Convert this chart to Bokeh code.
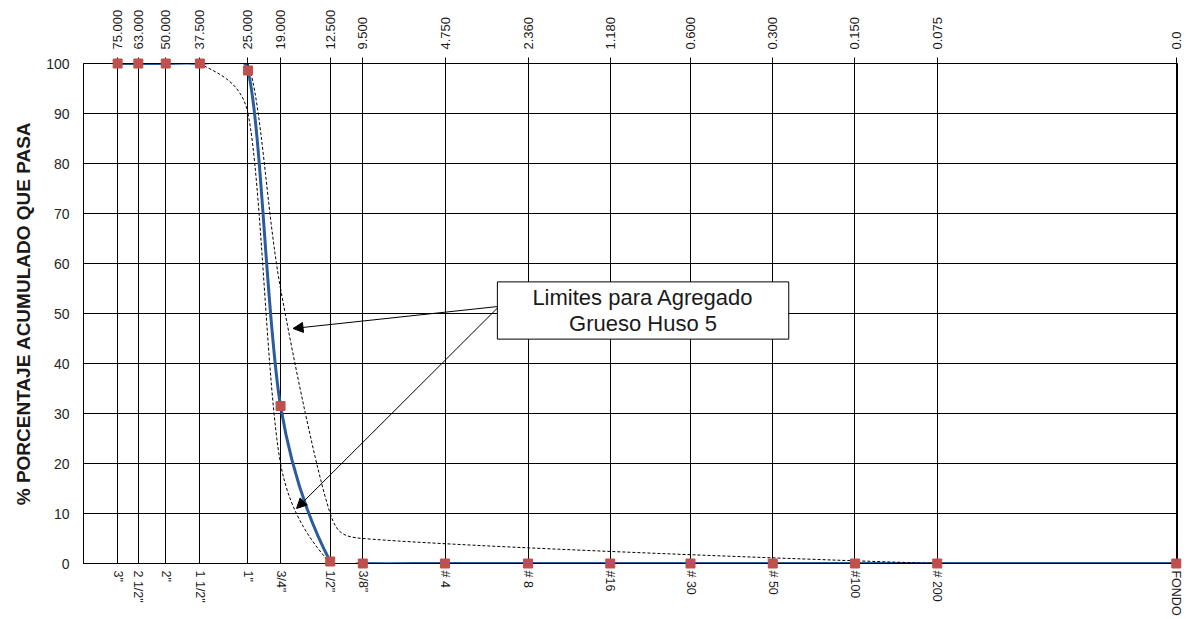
import numpy as np
from bokeh.plotting import figure
from bokeh.models import Range1d, LogAxis, FixedTicker, Arrow, NormalHead, Label
from bokeh.embed import file_html
from bokeh.resources import INLINE

# Sieve openings (mm); the pan (FONDO) is placed at 0.01 mm on the log axis
sieve_mm = [75.0, 63.0, 50.0, 37.5, 25.0, 19.0, 12.5, 9.5,
            4.75, 2.36, 1.18, 0.6, 0.3, 0.15, 0.075, 0.01]
sieve_mm_labels = ["75.000", "63.000", "50.000", "37.500", "25.000", "19.000",
                   "12.500", "9.500", "4.750", "2.360", "1.180", "0.600",
                   "0.300", "0.150", "0.075", "0.0"]
sieve_names = ['3"', '2 1/2"', '2"', '1 1/2"', '1"', '3/4"', '1/2"', '3/8"',
               '# 4', '# 8', '#16', '# 30', '# 50', '#100', '# 200', 'FONDO']

# Cumulative percent passing of the sample
sample_passing = [100, 100, 100, 100, 98.6, 31.5, 0.4, 0,
                  0, 0, 0, 0, 0, 0, 0, 0]

# Gradation limits, coarse aggregate size No. 5 (Huso 5)
upper_mm = [75.0, 63.0, 50.0, 37.5, 25.0, 19.0, 12.5, 9.5, 0.075, 0.01]
upper_passing = [100, 100, 100, 100, 100, 55, 10, 5, 0, 0]
lower_mm = [75.0, 63.0, 50.0, 37.5, 25.0, 19.0, 12.5, 9.5,
            4.75, 2.36, 1.18, 0.6, 0.3, 0.15, 0.075, 0.01]
lower_passing = [100, 100, 100, 100, 90, 20, 0, 0,
                 0, 0, 0, 0, 0, 0, 0, 0]

y_ticks = [0, 10, 20, 30, 40, 50, 60, 70, 80, 90, 100]

FONT = "Liberation Sans"

# on-screen proportions used for the curve smoothing (px per decade, px per %)
PX_DECADE = 273.0
PX_PERCENT = 5.0


def smooth_segments(xs, ys, tension=1 / 6):
    """Cubic Bezier segments through the points (spreadsheet-style smoothed
    line): Catmull-Rom tangents whose arms are limited to half the segment
    length, evaluated in screen proportions over log-x."""
    lx = np.log10(np.asarray(xs, float))
    y = np.asarray(ys, float)
    pts = np.column_stack([lx * PX_DECADE, y * PX_PERCENT])
    pts = np.vstack([pts[:1], pts, pts[-1:]])
    out = {k: [] for k in ("x0", "y0", "x1", "y1", "cx0", "cy0", "cx1", "cy1")}

    def to_data(pt):
        return 10 ** (pt[0] / PX_DECADE), pt[1] / PX_PERCENT

    for i in range(len(lx) - 1):
        p0, p1, p2, p3 = pts[i:i + 4]
        d12 = np.hypot(*(p2 - p1))
        d02 = np.hypot(*(p2 - p0))
        d13 = np.hypot(*(p3 - p1))
        f = tension if d02 == 0 else min(tension, 0.5 * d12 / d02)
        g = tension if d13 == 0 else min(tension, 0.5 * d12 / d13)
        c1 = p1 + f * (p2 - p0)
        c2 = p2 - g * (p3 - p1)
        for key, pt in (("0", p1), ("1", p2)):
            xd, yd = to_data(pt)
            out["x" + key].append(xd)
            out["y" + key].append(yd)
        for key, pt in (("0", c1), ("1", c2)):
            xd, yd = to_data(pt)
            out["cx" + key].append(xd)
            out["cy" + key].append(yd)
    return out


p = figure(width=1188, height=619, x_axis_type="log",
           x_range=Range1d(100, 0.0099), y_range=Range1d(0, 100),
           output_backend="svg", toolbar_location=None,
           min_border_left=83, min_border_right=11,
           min_border_top=63, min_border_bottom=56,
           background_fill_color="white", border_fill_color="white")
p.outline_line_color = "black"
p.outline_line_width = 1

# Bottom axis: sieve designations
xa = p.xaxis[0]
xa.ticker = FixedTicker(ticks=sieve_mm)
xa.major_label_overrides = {float(k): v for k, v in zip(sieve_mm, sieve_names)}
xa.major_label_orientation = "vertical"
xa.major_tick_out = 0
xa.major_tick_in = 0
xa.minor_tick_out = 0
xa.minor_tick_in = 0
xa.major_label_standoff = 7
xa.major_label_text_font = FONT
xa.major_label_text_font_size = "12.5px"
xa.major_label_text_color = "#1a1a1a"
xa.axis_line_color = "black"

# Top axis: openings in mm
top = LogAxis(ticker=FixedTicker(ticks=sieve_mm),
              major_label_overrides={float(k): v for k, v in zip(sieve_mm, sieve_mm_labels)},
              major_label_orientation="vertical",
              major_tick_out=6, major_tick_in=0,
              minor_tick_out=0, minor_tick_in=0,
              major_label_standoff=8,
              major_label_text_font=FONT,
              major_label_text_font_size="13px",
              major_label_text_color="#1a1a1a",
              axis_line_color="black", major_tick_line_color="black")
p.add_layout(top, "above")

ya = p.yaxis[0]
ya.ticker = FixedTicker(ticks=y_ticks)
ya.major_tick_out = 0
ya.major_tick_in = 0
ya.minor_tick_out = 0
ya.minor_tick_in = 0
ya.major_label_standoff = 14
ya.major_label_text_font = FONT
ya.major_label_text_font_size = "14px"
ya.major_label_text_color = "#262626"
ya.axis_line_color = "black"
ya.axis_label = "% PORCENTAJE ACUMULADO QUE PASA"
ya.axis_label_text_font = FONT
ya.axis_label_text_font_size = "19px"
ya.axis_label_text_font_style = "bold"
ya.axis_label_text_color = "#1a1a1a"
ya.axis_label_standoff = 9

p.xgrid.grid_line_color = "black"
p.xgrid.grid_line_width = 1
p.ygrid.grid_line_color = "black"
p.ygrid.grid_line_width = 1

# Sample gradation curve
p.bezier(**smooth_segments(sieve_mm, sample_passing),
         line_color="#2B5C9B", line_width=3)

# Limit curves
for xs, ys in ((upper_mm, upper_passing), (lower_mm, lower_passing)):
    p.bezier(**smooth_segments(xs, ys), line_color="black",
             line_width=1, line_dash="3 2")

p.scatter(sieve_mm, sample_passing, marker="square", size=9,
          fill_color="#C0504D", line_color="#C0504D", level="overlay")

# Callout for the limit curves
p.add_layout(Label(x=0.895, y=50.6, text="Limites para Agregado\nGrueso Huso 5",
                   anchor="center", text_align="center",
                   text_font=FONT, text_font_size="22px", text_color="#1a1a1a",
                   text_line_height=1.05,
                   border_line_color="black", border_line_width=1,
                   background_fill_color="white", padding=(35, 3)))

head = dict(size=10, fill_color="black", line_color="black")
p.add_layout(Arrow(end=NormalHead(**head), x_start=3.04, y_start=51.4,
                   x_end=17.1, y_end=47, line_color="black", line_width=1))
p.add_layout(Arrow(end=NormalHead(**head), x_start=3.04, y_start=51.2,
                   x_end=16.6, y_end=11, line_color="black", line_width=1))

open("out.html", "w").write(file_html(p, INLINE))
